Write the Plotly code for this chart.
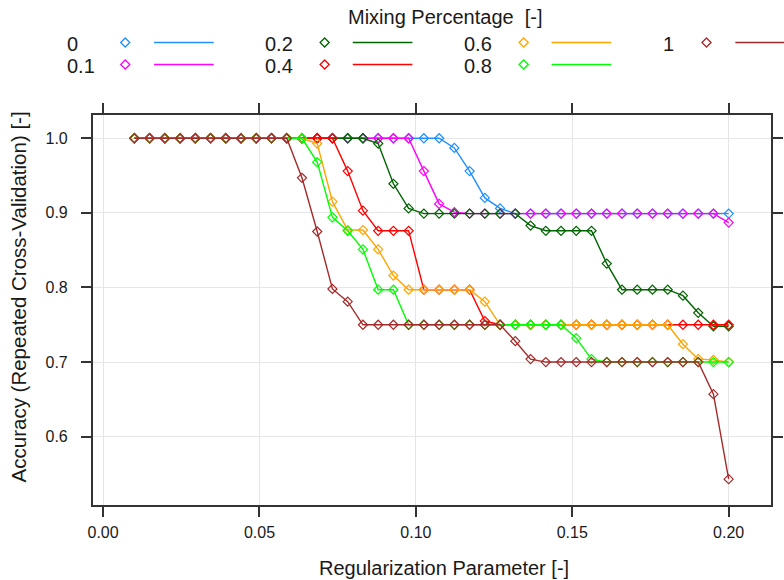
import plotly.graph_objects as go

W, H = 784, 580

# ---------------- data ----------------
reg_param = [0.01000, 0.01487, 0.01974, 0.02462, 0.02949, 0.03436, 0.03923, 0.04410,
             0.04897, 0.05385, 0.05872, 0.06359, 0.06846, 0.07333, 0.07821, 0.08308,
             0.08795, 0.09282, 0.09769, 0.10256, 0.10744, 0.11231, 0.11718, 0.12205,
             0.12692, 0.13179, 0.13667, 0.14154, 0.14641, 0.15128, 0.15615, 0.16103,
             0.16590, 0.17077, 0.17564, 0.18051, 0.18538, 0.19026, 0.19513, 0.20000]

mix_labels = ["0", "0.1", "0.2", "0.4", "0.6", "0.8", "1"]

acc_0 = [1.0, 1.0, 1.0, 1.0, 1.0, 1.0, 1.0, 1.0, 1.0, 1.0, 1.0, 1.0, 1.0, 1.0, 1.0, 1.0,
         1.0, 1.0, 1.0, 1.0, 1.0, 0.987, 0.956, 0.920, 0.906, 0.899, 0.899, 0.899, 0.899, 0.899,
         0.899, 0.899, 0.899, 0.899, 0.899, 0.899, 0.899, 0.899, 0.899, 0.899]
acc_01 = [1.0, 1.0, 1.0, 1.0, 1.0, 1.0, 1.0, 1.0, 1.0, 1.0, 1.0, 1.0, 1.0, 1.0, 1.0, 1.0,
          1.0, 1.0, 1.0, 0.956, 0.912, 0.901, 0.899, 0.899, 0.899, 0.899, 0.899, 0.899, 0.899, 0.899,
          0.899, 0.899, 0.899, 0.899, 0.899, 0.899, 0.899, 0.899, 0.899, 0.887]
acc_02 = [1.0, 1.0, 1.0, 1.0, 1.0, 1.0, 1.0, 1.0, 1.0, 1.0, 1.0, 1.0, 1.0, 1.0, 1.0, 1.0,
          0.993, 0.939, 0.906, 0.899, 0.899, 0.899, 0.899, 0.899, 0.899, 0.899, 0.883, 0.876, 0.876, 0.876,
          0.876, 0.832, 0.797, 0.797, 0.797, 0.797, 0.789, 0.766, 0.748, 0.748]
acc_04 = [1.0, 1.0, 1.0, 1.0, 1.0, 1.0, 1.0, 1.0, 1.0, 1.0, 1.0, 1.0, 1.0, 1.0, 0.956, 0.903,
          0.876, 0.876, 0.876, 0.797, 0.797, 0.797, 0.797, 0.755, 0.750, 0.750, 0.750, 0.750, 0.750, 0.750,
          0.750, 0.750, 0.750, 0.750, 0.750, 0.750, 0.750, 0.750, 0.750, 0.750]
acc_06 = [1.0, 1.0, 1.0, 1.0, 1.0, 1.0, 1.0, 1.0, 1.0, 1.0, 1.0, 1.0, 0.993, 0.915, 0.877, 0.877,
          0.851, 0.816, 0.797, 0.797, 0.797, 0.797, 0.797, 0.781, 0.750, 0.750, 0.750, 0.750, 0.750, 0.750,
          0.750, 0.750, 0.750, 0.750, 0.750, 0.750, 0.724, 0.704, 0.703, 0.700]
acc_08 = [1.0, 1.0, 1.0, 1.0, 1.0, 1.0, 1.0, 1.0, 1.0, 1.0, 1.0, 1.0, 0.968, 0.894, 0.876, 0.851,
          0.797, 0.797, 0.750, 0.750, 0.750, 0.750, 0.750, 0.750, 0.750, 0.750, 0.750, 0.750, 0.750, 0.732,
          0.704, 0.700, 0.700, 0.700, 0.700, 0.700, 0.700, 0.700, 0.700, 0.700]
acc_1 = [1.0, 1.0, 1.0, 1.0, 1.0, 1.0, 1.0, 1.0, 1.0, 1.0, 1.0, 0.947, 0.875, 0.798, 0.781, 0.750,
         0.750, 0.750, 0.750, 0.750, 0.750, 0.750, 0.750, 0.750, 0.750, 0.728, 0.704, 0.700, 0.700, 0.700,
         0.700, 0.700, 0.700, 0.700, 0.700, 0.700, 0.700, 0.700, 0.657, 0.543]

series = [acc_0, acc_01, acc_02, acc_04, acc_06, acc_08, acc_1]

x_ticks = [0.00, 0.05, 0.10, 0.15, 0.20]
x_tick_text = ["0.00", "0.05", "0.10", "0.15", "0.20"]
y_ticks = [0.6, 0.7, 0.8, 0.9, 1.0]
y_tick_text = ["0.6", "0.7", "0.8", "0.9", "1.0"]

# ---------------- styles ----------------
colors = ["#1E90FF", "#FF00FF", "#006400", "#FF0000", "#FFA500", "#00FF00", "#A52A2A"]
FONT = "Liberation Sans, Arial, sans-serif"
TXT = "#1a1a1a"

# frame in pixels
fl, fr, ft, fb = 88.3, 771.0, 115.0, 505.0

fig = go.Figure()

for vals, col, lab in zip(series, colors, mix_labels):
    fig.add_trace(go.Scatter(
        x=reg_param, y=vals, mode="lines+markers", name=lab,
        line=dict(color=col, width=1.4),
        marker=dict(symbol="diamond-open", size=7, color=col, line=dict(width=1.2, color=col)),
        showlegend=False, xaxis="x", yaxis="y"))

# ---- custom key (lattice style: text, marker, line) ----
key_text_x = [60, 60, 260, 260, 460, 460, 660]
key_row_y = [44, 66, 44, 66, 44, 66, 44]
key_marker_x = [121, 121, 321.7, 321.7, 522, 522, 706]
key_line_x0 = [150, 150, 350, 350, 550, 550, 735]

fig.add_trace(go.Scatter(
    x=key_marker_x, y=[y - 1.5 for y in key_row_y], mode="markers",
    marker=dict(symbol="diamond-open", size=7, color=colors, line=dict(width=1.3, color=colors)),
    showlegend=False, hoverinfo="skip", xaxis="x2", yaxis="y2"))

shapes = []
annotations = []
for lab, tx, ry, lx0, col in zip(mix_labels, key_text_x, key_row_y, key_line_x0, colors):
    annotations.append(dict(x=tx / W, y=1 - ry / H, xref="paper", yref="paper", text=lab,
                            showarrow=False, xanchor="left", yanchor="middle",
                            font=dict(family=FONT, size=20, color=TXT)))
    shapes.append(dict(type="line", xref="paper", yref="paper",
                       x0=lx0 / W, x1=(lx0 + 60) / W, y0=1 - (ry - 1.5) / H, y1=1 - (ry - 1.5) / H,
                       line=dict(color=col, width=1.6)))

annotations.append(dict(x=443.5 / W, y=1 - 17 / H, xref="paper", yref="paper",
                        text="Mixing Percentage  [-]", showarrow=False,
                        xanchor="center", yanchor="middle",
                        font=dict(family=FONT, size=20, color=TXT)))
annotations.append(dict(x=441.5 / W, y=1 - 567.7 / H, xref="paper", yref="paper",
                        text="Regularization Parameter [-]", showarrow=False,
                        xanchor="center", yanchor="middle",
                        font=dict(family=FONT, size=20, color=TXT)))
annotations.append(dict(x=14 / W, y=1 - 296.5 / H, xref="paper", yref="paper",
                        text="Accuracy (Repeated Cross-Validation) [-]", showarrow=False,
                        textangle=-90, xanchor="center", yanchor="middle",
                        font=dict(family=FONT, size=20.5, color=TXT)))

axis_common = dict(showline=True, linecolor="#333333", linewidth=1.6, mirror="ticks",
                   ticks="outside", ticklen=10, tickwidth=1.6, tickcolor="#333333",
                   showgrid=True, gridcolor="#E6E6E6", gridwidth=1, zeroline=False,
                   tickfont=dict(family=FONT, size=16, color=TXT))

fig.update_layout(
    width=W, height=H,
    margin=dict(l=0, r=0, t=0, b=0),
    paper_bgcolor="white", plot_bgcolor="rgba(0,0,0,0)",
    showlegend=False,
    xaxis=dict(domain=[fl / W, fr / W], range=[-0.0033, 0.21356],
               tickvals=x_ticks, ticktext=x_tick_text, ticklabelstandoff=2, **axis_common),
    yaxis=dict(domain=[1 - fb / H, 1 - ft / H], range=[0.5084, 1.0312],
               tickvals=y_ticks, ticktext=y_tick_text, ticklabelstandoff=10, **axis_common),
    xaxis2=dict(domain=[0, 1], range=[0, W], visible=False, anchor="y2", fixedrange=True),
    yaxis2=dict(domain=[0, 1], range=[H, 0], visible=False, anchor="x2", fixedrange=True),
    shapes=shapes,
    annotations=annotations,
)

fig.write_html("out.html", config={"displayModeBar": False},
               post_script="document.body.style.margin='0px';document.body.style.overflow='hidden';")
